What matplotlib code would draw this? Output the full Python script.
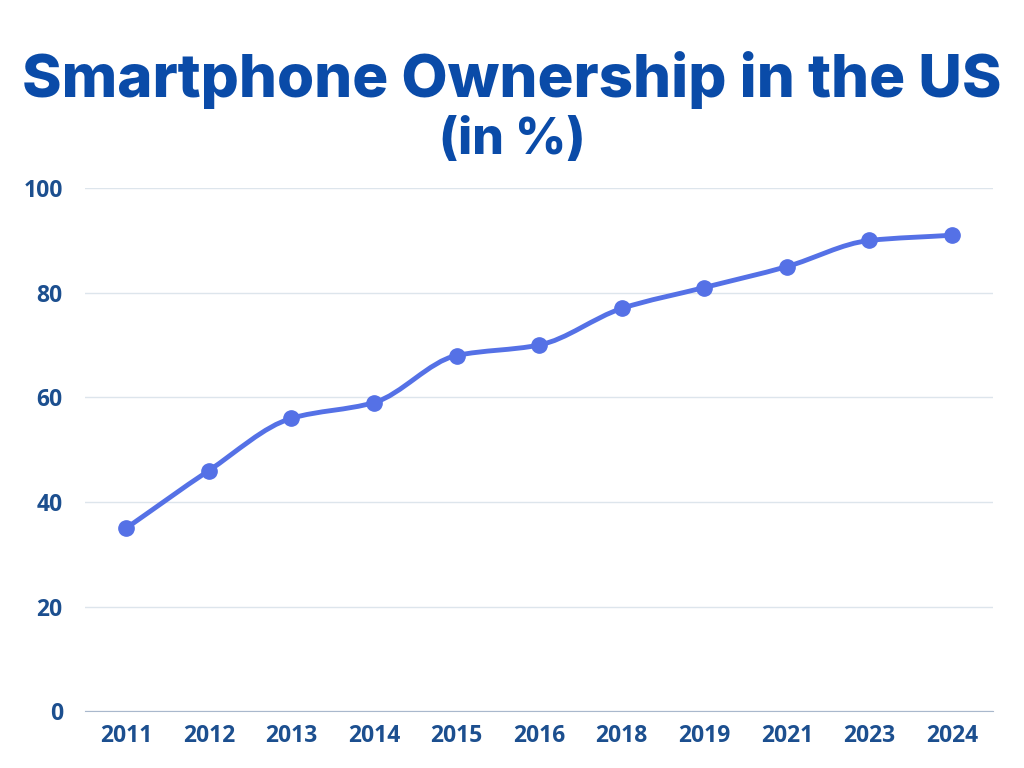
"""Smartphone ownership in the US, 2011-2024 (share of adults, %)."""
import matplotlib

matplotlib.use("Agg")
import matplotlib.pyplot as plt
import numpy as np
from matplotlib.patches import PathPatch
from matplotlib.path import Path

years = ["2011", "2012", "2013", "2014", "2015", "2016",
         "2018", "2019", "2021", "2023", "2024"]
ownership = [35, 46, 56, 59, 68, 70, 77, 81, 85, 90, 91]
y_ticks = [0, 20, 40, 60, 80, 100]

TITLE_BLUE = "#0A4BA8"
TICK_BLUE = "#1C4F8F"
LINE_BLUE = "#5571E6"


def monotone_path(xs, ys):
    """Cubic Bezier path through the points, monotone tangents (Fritsch-Carlson)."""
    xs = np.asarray(xs, dtype=float)
    ys = np.asarray(ys, dtype=float)
    dx = np.diff(xs)
    slope = np.diff(ys) / dx
    m = np.empty_like(ys)
    m[0], m[-1] = slope[0], slope[-1]
    for i in range(1, len(ys) - 1):
        if slope[i - 1] * slope[i] <= 0:
            m[i] = 0.0
        else:
            m[i] = 2.0 / (1.0 / slope[i - 1] + 1.0 / slope[i])
    verts = [(xs[0], ys[0])]
    codes = [Path.MOVETO]
    for i in range(len(xs) - 1):
        h = dx[i] / 3.0
        verts += [(xs[i] + h, ys[i] + m[i] * h),
                  (xs[i + 1] - h, ys[i + 1] - m[i + 1] * h),
                  (xs[i + 1], ys[i + 1])]
        codes += [Path.CURVE4] * 3
    return Path(verts, codes)


fig = plt.figure(figsize=(10.24, 7.68), dpi=100)
ax = fig.add_axes([0.083, 0.074, 0.887, 0.681])

x = np.arange(len(years))
ax.add_patch(PathPatch(monotone_path(x, ownership), fill=False,
                       edgecolor=LINE_BLUE, lw=3.5, capstyle="round", zorder=3))
ax.plot(x, ownership, "o", color=LINE_BLUE, ms=11, zorder=4)

ax.set_xlim(-0.5, len(years) - 0.5)
ax.set_ylim(0, 100)
ax.set_xticks(x, years)
ax.set_yticks(y_ticks)
ax.grid(axis="y", color="#DDE5EC", lw=1)
ax.set_axisbelow(True)
for side in ("top", "right", "left"):
    ax.spines[side].set_visible(False)
ax.spines["bottom"].set_color("#A9B8CC")
ax.tick_params(length=0, labelsize=16.5, labelcolor=TICK_BLUE)
ax.tick_params(axis="x", pad=9)
ax.tick_params(axis="y", pad=16)
for lbl in ax.get_xticklabels() + ax.get_yticklabels():
    lbl.set_fontfamily("Open Sans")
    lbl.set_fontweight("bold")

title = fig.text(0.5, 0.874, "Smartphone Ownership in the US", ha="center",
                 va="baseline", fontsize=46, fontweight=800, family="Inter",
                 color=TITLE_BLUE)
# shrink the title so it spans about the same width as in the original (~980 px)
fig.canvas.draw()
w = title.get_window_extent().width
title.set_fontsize(46 * 980 / w)
fig.text(0.5, 0.8, "(in %)", ha="center", va="baseline", fontsize=36,
         fontweight=800, family="Inter", color=TITLE_BLUE)

fig.savefig("out.png", dpi=100, facecolor="white")
